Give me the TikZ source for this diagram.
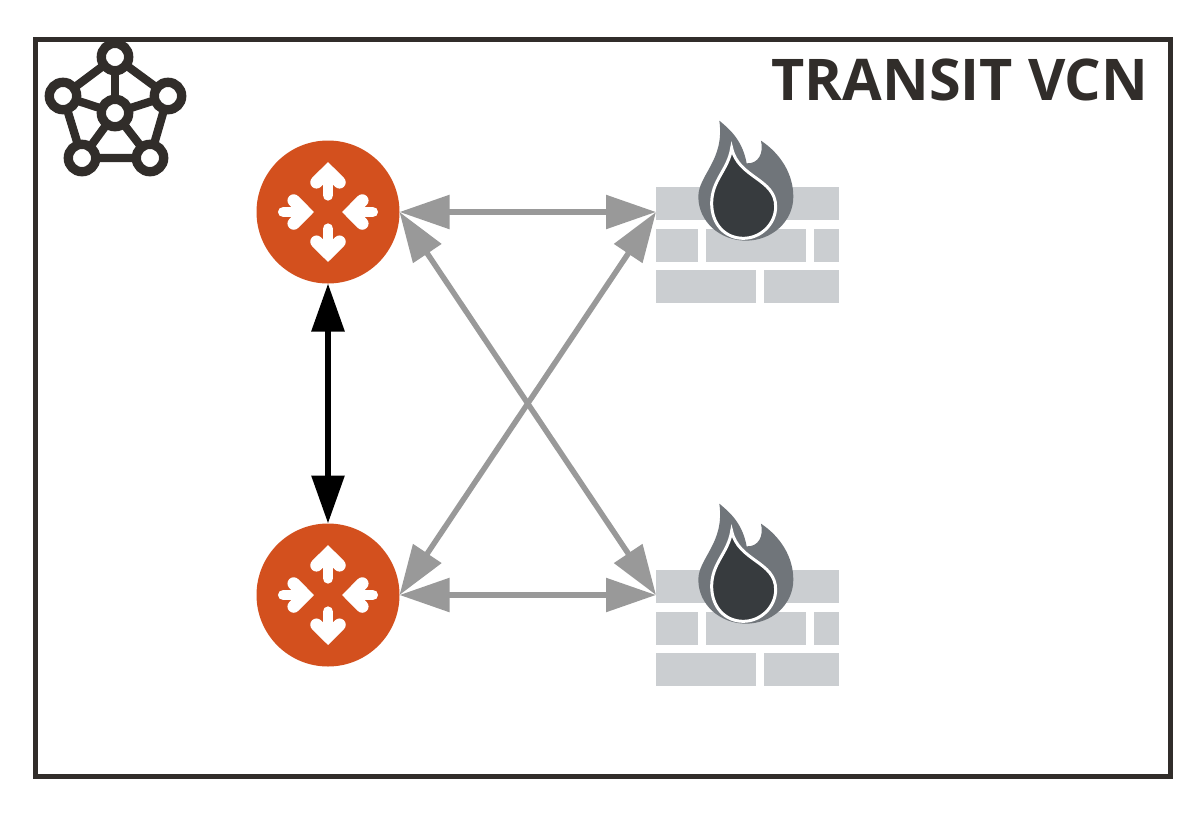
\documentclass[tikz,border=0pt]{standalone}
\usepackage{fontspec}
\setmainfont{Open Sans}
\usepackage{xcolor}
\usetikzlibrary{arrows.meta}
\definecolor{frameink}{HTML}{312D2A}
\definecolor{routerred}{HTML}{D3501E}
\definecolor{brickgray}{HTML}{CBCED1}
\definecolor{flamegray}{HTML}{70757A}
\definecolor{dropink}{HTML}{373B3E}
\definecolor{linkgray}{HTML}{999999}
\tikzset{
  routerdisc/.style={circle, fill=routerred, minimum size=143pt, inner sep=0pt, outer sep=0pt},
  linkarrow/.style={draw=linkgray, fill=linkgray, line width=5.5pt, {Triangle[length=50pt,width=33pt]}-{Triangle[length=50pt,width=33pt]}},
  hastarrow/.style={draw=black, fill=black, line width=6pt, {Triangle[length=48pt,width=32pt]}-{Triangle[length=48pt,width=32pt]}},
  netring/.style={draw=frameink, fill=white, line width=9.3pt},
  netspoke/.style={draw=frameink, line width=8.3pt},
  brick/.style={fill=brickgray},
  % one white arrow of a router, tip at the origin, pointing up
  pics/routerglyph/.style={code={
    \draw[white, line width=12.5pt, line cap=round, miter limit=10] (-11.5,20.3)--(0,8.84)--(11.5,20.3);
    \draw[white, line width=10.7pt, line cap=round] (0,12)--(0,#1);
  }},
  pics/routerarrows/.style={code={
    \pic[shift={(0,-50)}] {routerglyph=33.3};
    \pic[shift={(0,50)}, rotate=180] {routerglyph=33.3};
    \pic[shift={(-14,0)}, rotate=-90] {routerglyph=30.7};
    \pic[shift={(14,0)}, rotate=90] {routerglyph=30.7};
  }},
  % origin is the top left corner of the wall
  pics/firewall/.style={code={
    \fill[brick] (0,0) rectangle (183,33);
    \fill[brick] (0,41.5) rectangle (42,75);
    \fill[brick] (50,41.5) rectangle (150,75);
    \fill[brick] (158,41.5) rectangle (183,75);
    \fill[brick] (0,83) rectangle (100,116);
    \fill[brick] (108,83) rectangle (183,116);
    % Flame, traced at three times the size
    \begin{scope}[shift={(-26,-77)}, x=0.3333pt, y=-0.3333pt]
      \fill[flamegray] (268,32) .. controls (305,62) and (338,95) .. (350,160)
        .. controls (385,162) and (402,130) .. (393,92)
        .. controls (450,130) and (490,190) .. (490,260)
        .. controls (490,335) and (425,392) .. (348,392)
        .. controls (270,392) and (205,335) .. (205,260)
        .. controls (205,195) and (285,150) .. (268,32) -- cycle;
      \filldraw[fill=dropink, draw=white, line width=3pt] (305,114)
        .. controls (325,205) and (437,205) .. (437,290)
        .. controls (437,342) and (392,385) .. (340,385)
        .. controls (285,385) and (245,342) .. (245,280)
        .. controls (245,210) and (295,180) .. (305,114) -- cycle;
    \end{scope}
  }},
}
\begin{document}
\begin{tikzpicture}[x=1pt, y=-1pt]
  \useasboundingbox (0,0) rectangle (1202,812);
  \fill[white] (0,0) rectangle (1202,812);
  % Frame
  \draw[frameink, line width=5pt] (35.5,39.5) rectangle (1170,776);
  \node[anchor=base east, inner sep=0pt, text=frameink, font=\fontsize{57.5}{57.5}\selectfont\bfseries] (title) at (1148.5,100) {TRANSIT VCN};
  % Network badge
  \coordinate (hubc) at (115,113);
  \coordinate (huba) at (115,57);
  \coordinate (hubb) at (63,96);
  \coordinate (hubd) at (168,96);
  \coordinate (hube) at (82,158);
  \coordinate (hubf) at (150,158);
  \draw[netspoke] (huba) -- (hubb) -- (hube) -- (hubf) -- (hubd) -- cycle;
  \foreach \n in {huba,hubb,hubd,hube,hubf} {\draw[netspoke] (hubc) -- (\n);}
  \foreach \n in {hubc,huba,hubb,hubd,hube,hubf} {\draw[netring] (\n) circle (13.7);}
  % Routers
  \node[routerdisc] (rtop) at (328,212) {};
  \node[routerdisc] (rbot) at (328,595) {};
  \pic at (rtop) {routerarrows};
  \pic at (rbot) {routerarrows};
  % Firewalls
  \pic at (656,187) {firewall};
  \pic at (656,570) {firewall};
  \coordinate (fwtop) at (656,212);
  \coordinate (fwbot) at (656,595);
  % Links
  \draw[hastarrow] (rtop.south) -- (rbot.north);
  \draw[linkarrow] (rtop.east) -- (fwtop);
  \draw[linkarrow] (rbot.east) -- (fwbot);
  \draw[linkarrow] (rtop.east) -- (fwbot);
  \draw[linkarrow] (rbot.east) -- (fwtop);
\end{tikzpicture}
\end{document}
